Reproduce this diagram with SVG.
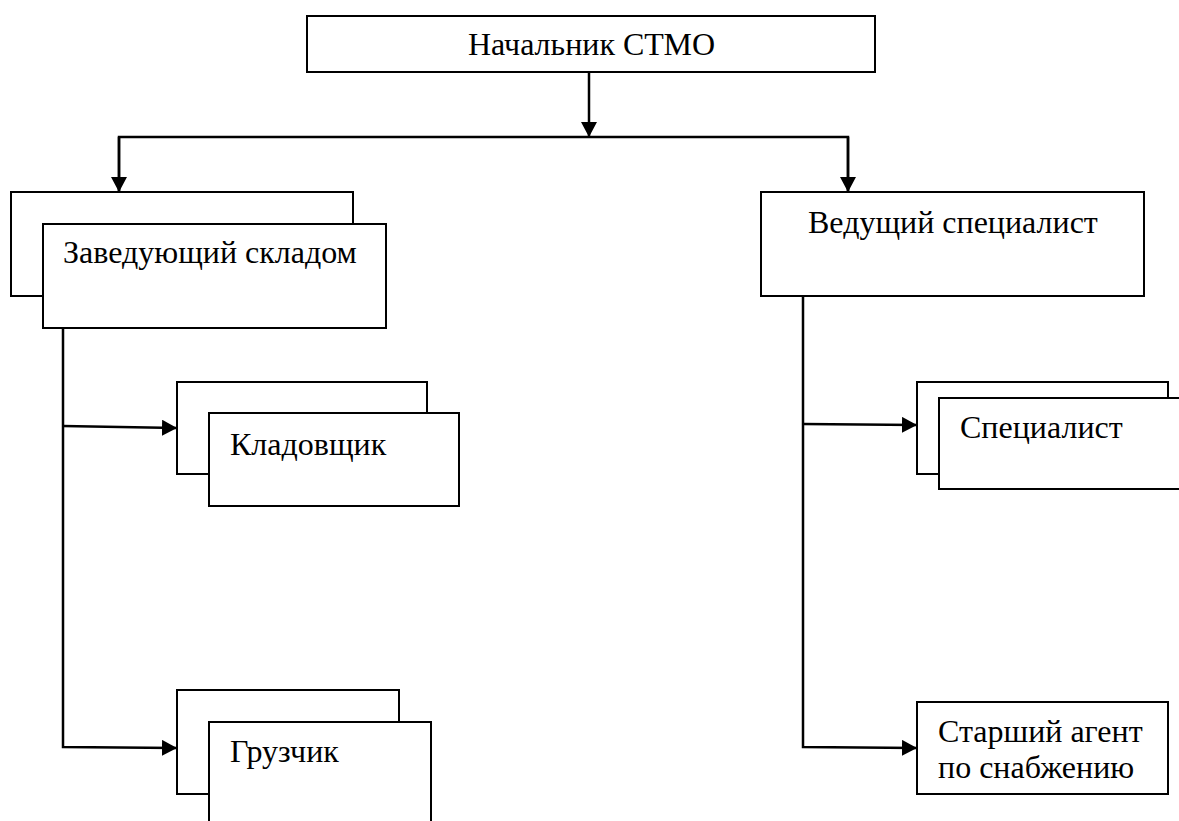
<svg xmlns="http://www.w3.org/2000/svg" width="1179" height="821" viewBox="0 0 1179 821">
  <style>
    .box { fill: #ffffff; stroke: #000000; stroke-width: 2; }
    .lbl { font-family: 'Liberation Serif', 'Times New Roman', serif; font-size: 32px; fill: #000000; }
    .conn { fill: none; stroke: #000000; stroke-width: 2.5; }
  </style>
  <defs>
    <marker id="arr" markerUnits="userSpaceOnUse" markerWidth="16" markerHeight="16" refX="15" refY="8" orient="auto">
      <path d="M0,0 L15,8 L0,16 Z" fill="#000000"/>
    </marker>
  </defs>
  <rect width="1179" height="821" fill="#ffffff"/>

  <g id="connectors">
    <line class="conn" x1="589" y1="72" x2="589" y2="137" marker-end="url(#arr)"/>
    <polyline class="conn" points="119,192 119,137 848,137 848,192"/>
    <line class="conn" x1="119" y1="137" x2="119" y2="192" marker-end="url(#arr)"/>
    <line class="conn" x1="848" y1="137" x2="848" y2="192" marker-end="url(#arr)"/>
    <polyline class="conn" points="63,328 63,747 177,748" marker-end="url(#arr)"/>
    <line class="conn" x1="63" y1="426" x2="177" y2="428" marker-end="url(#arr)"/>
    <polyline class="conn" points="803,296 803,747 917,748" marker-end="url(#arr)"/>
    <line class="conn" x1="803" y1="424" x2="917" y2="425" marker-end="url(#arr)"/>
  </g>

  <g id="node-head">
    <rect class="box" x="307" y="16" width="568" height="56"/>
    <text class="lbl" x="468" y="55">Начальник СТМО</text>
  </g>

  <g id="node-warehouse">
    <rect class="box" x="11" y="192" width="342" height="104"/>
    <rect class="box" x="43" y="224" width="343" height="104"/>
    <text class="lbl" x="63" y="263">Заведующий складом</text>
  </g>

  <g id="node-lead">
    <rect class="box" x="761" y="192" width="383" height="104"/>
    <text class="lbl" x="808" y="233">Ведущий специалист</text>
  </g>

  <g id="node-storekeeper">
    <rect class="box" x="177" y="382" width="250" height="92"/>
    <rect class="box" x="209" y="413" width="250" height="93"/>
    <text class="lbl" x="230" y="455">Кладовщик</text>
  </g>

  <g id="node-specialist">
    <rect class="box" x="917" y="382" width="251" height="92"/>
    <rect class="box" x="939" y="398" width="250" height="91"/>
    <text class="lbl" x="960" y="438">Специалист</text>
  </g>

  <g id="node-loader">
    <rect class="box" x="177" y="690" width="222" height="104"/>
    <rect class="box" x="209" y="722" width="222" height="110"/>
    <text class="lbl" x="230" y="762">Грузчик</text>
  </g>

  <g id="node-agent">
    <rect class="box" x="917" y="702" width="251" height="92"/>
    <text class="lbl" x="938" y="742">Старший агент</text>
    <text class="lbl" x="938" y="778">по снабжению</text>
  </g>
</svg>
